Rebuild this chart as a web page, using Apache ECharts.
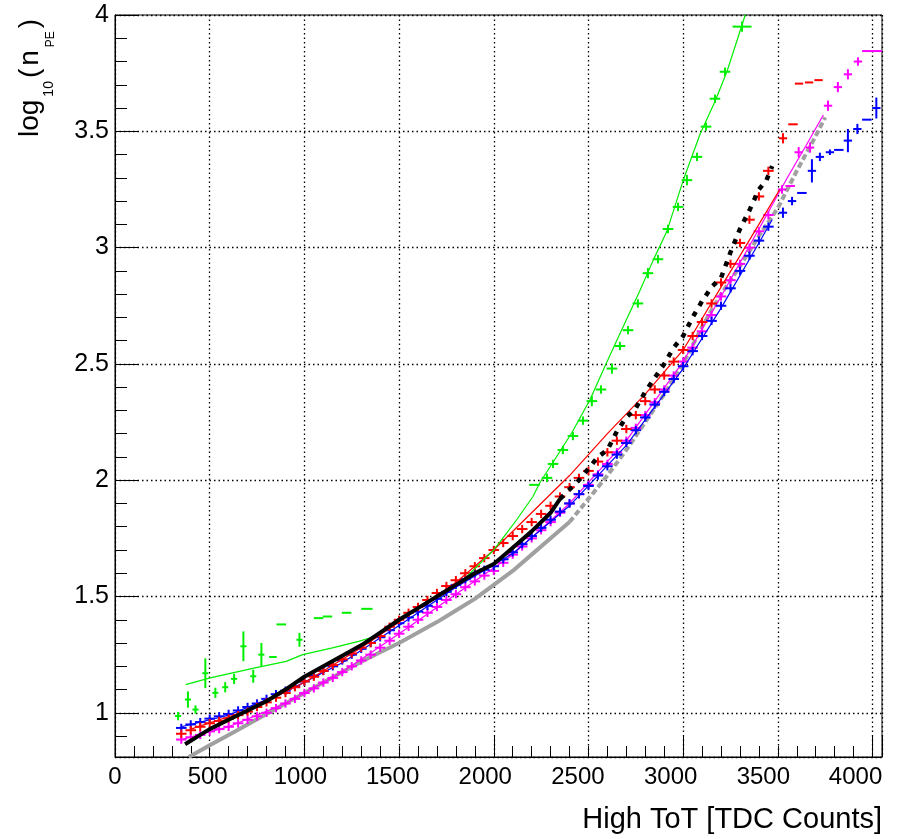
<!DOCTYPE html>
<html>
<head>
<meta charset="utf-8">
<script src="https://cdn.jsdelivr.net/npm/echarts@6/dist/echarts.min.js"></script>
<style>
  html, body { margin: 0; padding: 0; background: #fff; }
  #chart { width: 920px; height: 839px; }
</style>
</head>
<body>
<div id="chart"></div>
<script>
// ToT bins shared by the red / blue / magenta points
var tot = [350, 400, 450, 500, 550, 600, 650, 700, 750, 800, 850, 900, 950, 1000,
  1050, 1100, 1150, 1200, 1250, 1300, 1350, 1400, 1450, 1500,
  1550, 1600, 1650, 1700, 1750, 1800, 1850, 1900, 1950, 2000,
  2050, 2100, 2150, 2200, 2250, 2300, 2350, 2400, 2450, 2500,
  2550, 2600, 2650, 2700, 2750, 2800, 2850, 2900, 2950, 3000,
  3050, 3100, 3150, 3200, 3250, 3300, 3350, 3400, 3450];

var redPts = [0.91, 0.925, 0.94, 0.955, 0.965, 0.975, 0.99, 1.005, 1.025, 1.045, 1.065, 1.085, 1.11, 1.135,
  1.155, 1.18, 1.205, 1.23, 1.255, 1.28, 1.30, 1.33, 1.37, 1.40,
  1.43, 1.455, 1.485, 1.515, 1.545, 1.57, 1.60, 1.63, 1.665, 1.70,
  1.73, 1.76, 1.79, 1.82, 1.855, 1.89, 1.93, 1.97, 2.01, 2.04,
  2.08, 2.12, 2.17, 2.22, 2.28, 2.34, 2.39, 2.45, 2.51, 2.56,
  2.62, 2.68, 2.76, 2.85, 2.93, 3.02, 3.12, 3.22, 3.33];

var bluePts = [0.935, 0.95, 0.96, 0.975, 0.985, 0.995, 1.01, 1.025, 1.04, 1.06, 1.08, 1.095, 1.115, 1.135,
  1.16, 1.18, 1.20, 1.225, 1.25, 1.275, 1.30, 1.325, 1.355, 1.385,
  1.41, 1.435, 1.46, 1.49, 1.52, 1.55, 1.575, 1.60, 1.615, 1.63,
  1.66, 1.69, 1.725, 1.76, 1.795, 1.83, 1.865, 1.90, 1.94, 1.975,
  2.02, 2.06, 2.11, 2.16, 2.215, 2.27, 2.325, 2.38, 2.435, 2.49,
  2.555, 2.62, 2.685, 2.75, 2.825, 2.90, 2.965, 3.03, 3.09];

var magentaPts = [0.885, 0.895, 0.905, 0.92, 0.93, 0.94, 0.955, 0.97, 0.985, 1.00, 1.02, 1.04, 1.06, 1.085,
  1.105, 1.13, 1.15, 1.175, 1.20, 1.225, 1.25, 1.28, 1.31, 1.34,
  1.37, 1.40, 1.43, 1.455, 1.485, 1.51, 1.54, 1.565, 1.59, 1.61,
  1.645, 1.68, 1.715, 1.75, 1.785, 1.82, 1.86, 1.90, 1.94, 1.98,
  2.025, 2.07, 2.12, 2.17, 2.225, 2.28, 2.335, 2.39, 2.45, 2.51,
  2.57, 2.64, 2.71, 2.79, 2.86, 2.93, 3.00, 3.07, 3.14];

// default errors of the binned points: [x error, y error]
var binErr = [28, 0.018];

// extra points at high ToT: [x, y, x error, y error]
var redExtra = [[3527, 3.47, 22, 0.022], [3580, 3.53, 25, 0], [3612, 3.705, 22, 0], [3665, 3.71, 22, 0], [3715, 3.72, 22, 0]];
var blueExtra = [[3527, 3.15, 22, 0.022], [3575, 3.20, 22, 0.018], [3627, 3.235, 25, 0], [3680, 3.33, 22, 0.05],
  [3722, 3.39, 22, 0.018], [3775, 3.41, 22, 0.012], [3822, 3.42, 25, 0], [3870, 3.46, 22, 0.05],
  [3920, 3.51, 22, 0.022], [3970, 3.55, 25, 0], [4020, 3.60, 22, 0.045]];
var magentaExtra = [[3522, 3.25, 22, 0.018], [3565, 3.265, 25, 0], [3610, 3.41, 22, 0.022], [3670, 3.43, 22, 0.022],
  [3765, 3.61, 22, 0.022], [3817, 3.69, 22, 0.022], [3870, 3.745, 22, 0.022], [3923, 3.80, 22, 0.018], [4000, 3.845, 55, 0]];

var greenPts = [[333, 0.986, 16, 0.018], [385, 1.057, 16, 0.035], [425, 1.014, 16, 0.018], [477, 1.17, 16, 0.064],
  [530, 1.086, 16, 0.022], [582, 1.11, 16, 0.022], [629, 1.146, 16, 0.022], [678, 1.286, 16, 0.064],
  [730, 1.157, 16, 0.028], [773, 1.25, 16, 0.05], [834, 1.24, 20, 0], [878, 1.38, 25, 0],
  [974, 1.314, 16, 0.03], [1075, 1.407, 25, 0], [1122, 1.414, 25, 0], [1223, 1.43, 25, 0], [1330, 1.447, 30, 0],
  [2215, 1.98, 28, 0], [2281, 2.01, 28, 0.018], [2313, 2.07, 28, 0.018], [2365, 2.13, 28, 0.018],
  [2418, 2.19, 28, 0.018], [2471, 2.256, 28, 0.018], [2518, 2.34, 28, 0.022], [2566, 2.39, 28, 0.018],
  [2624, 2.48, 28, 0.022], [2666, 2.577, 28, 0.018], [2709, 2.645, 28, 0.018], [2761, 2.76, 28, 0.018],
  [2814, 2.89, 28, 0.022], [2867, 2.95, 28, 0.018], [2920, 3.08, 28, 0.018], [2973, 3.175, 28, 0.018],
  [3020, 3.29, 28, 0.022], [3073, 3.39, 28, 0.018], [3121, 3.52, 28, 0.018], [3168, 3.64, 28, 0.018],
  [3221, 3.756, 28, 0.018], [3311, 3.95, 50, 0.022]];

// fitted curves
var greenFit = [[373, 1.121], [503, 1.15], [739, 1.193], [904, 1.221], [991, 1.25], [1148, 1.279], [1287, 1.307],
  [1374, 1.329], [1450, 1.37], [1550, 1.42], [1700, 1.50], [1850, 1.58], [2000, 1.70], [2033, 1.735],
  [2121, 1.83], [2207, 1.93], [2244, 1.99], [2323, 2.09], [2413, 2.205], [2508, 2.346], [2587, 2.49],
  [2666, 2.63], [2772, 2.816], [2841, 2.944], [2914, 3.07], [2999, 3.286], [3089, 3.487], [3168, 3.628],
  [3231, 3.756], [3311, 3.957], [3335, 4.02]];
var redFit = [[400, 0.93], [700, 1.01], [1000, 1.13], [1300, 1.28], [1500, 1.39], [1800, 1.56], [2000, 1.70],
  [2200, 1.86], [2400, 2.02], [2600, 2.20], [2800, 2.37], [3000, 2.56], [3200, 2.83], [3400, 3.10], [3510, 3.25]];
var blueFit = [[350, 0.94], [600, 0.99], [900, 1.09], [1200, 1.215], [1500, 1.375], [1800, 1.54], [2100, 1.685],
  [2400, 1.89], [2700, 2.15], [3000, 2.48], [3200, 2.74], [3400, 3.02], [3470, 3.12]];
var magentaFit = [[350, 0.885], [600, 0.94], [900, 1.04], [1200, 1.175], [1500, 1.34], [1800, 1.51], [2100, 1.68],
  [2400, 1.90], [2700, 2.17], [3000, 2.51], [3200, 2.79], [3400, 3.08], [3550, 3.30], [3650, 3.44], [3740, 3.57]];

// dense reference curves
var blackLow = [[370, 0.865], [400, 0.88], [450, 0.905], [500, 0.93], [600, 0.97], [700, 1.01], [800, 1.05],
  [900, 1.10], [1000, 1.155], [1100, 1.20], [1200, 1.245], [1300, 1.29], [1400, 1.345], [1500, 1.40],
  [1600, 1.45], [1700, 1.50], [1800, 1.55], [1900, 1.60], [2000, 1.64], [2100, 1.71], [2200, 1.78],
  [2300, 1.86], [2350, 1.92]];
var blackHigh = [[2350, 1.92], [2400, 1.96], [2450, 2.00], [2500, 2.05], [2550, 2.10], [2600, 2.13], [2650, 2.21],
  [2700, 2.27], [2750, 2.31], [2800, 2.38], [2850, 2.44], [2900, 2.50], [2950, 2.57], [3000, 2.62],
  [3050, 2.70], [3100, 2.77], [3150, 2.83], [3200, 2.87], [3250, 2.98], [3300, 3.08], [3350, 3.16],
  [3400, 3.25], [3440, 3.29], [3470, 3.35]];
var grayLow = [[390, 0.81], [500, 0.86], [600, 0.905], [700, 0.95], [800, 0.995], [900, 1.04], [1000, 1.085],
  [1100, 1.13], [1200, 1.175], [1300, 1.22], [1400, 1.26], [1500, 1.30], [1600, 1.345], [1700, 1.39],
  [1800, 1.44], [1900, 1.49], [2000, 1.55], [2100, 1.61], [2200, 1.68], [2300, 1.75], [2400, 1.82]];
var grayHigh = [[2400, 1.82], [2500, 1.92], [2600, 2.02], [2700, 2.13], [2800, 2.25], [2900, 2.37], [3000, 2.50],
  [3100, 2.66], [3200, 2.80], [3300, 2.92], [3400, 3.05], [3500, 3.17], [3600, 3.33], [3700, 3.48], [3750, 3.56]];

var FONT = '"Liberation Sans", Arial, Helvetica, sans-serif';

function binned(ys) {
  return tot.map(function (x, i) { return [x, ys[i], binErr[0], binErr[1]]; });
}

function crossRenderer(color) {
  return function (params, api) {
    var x = api.value(0), y = api.value(1), ex = api.value(2), ey = api.value(3);
    var c = api.coord([x, y]);
    var l = api.coord([x - ex, y]);
    var r = api.coord([x + ex, y]);
    var kids = [{
      type: 'line',
      shape: { x1: l[0], y1: c[1], x2: r[0], y2: c[1] },
      style: { stroke: color, lineWidth: 2 }
    }];
    if (ey > 0) {
      var t = api.coord([x, y + ey]);
      var b = api.coord([x, y - ey]);
      kids.push({
        type: 'line',
        shape: { x1: c[0], y1: t[1], x2: c[0], y2: b[1] },
        style: { stroke: color, lineWidth: 2 }
      });
    }
    return { type: 'group', children: kids };
  };
}

function crosses(name, color, data, z) {
  return {
    name: name, type: 'custom', renderItem: crossRenderer(color),
    encode: { x: 0, y: 1 }, data: data, clip: true, z: z
  };
}

function curve(name, data, color, width, dash, z) {
  return {
    name: name, type: 'line', data: data, showSymbol: false, symbol: 'none',
    lineStyle: { color: color, width: width, type: dash || 'solid', cap: 'butt' },
    z: z, silent: true
  };
}

// the x labels drift a little to the left of their ticks, as in the original
var labelRich = {};
for (var k = 0; k <= 8; k++) {
  labelRich['s' + k] = { fontFamily: FONT, fontSize: 24, color: '#000', padding: [0, Math.round(k * 4.2), 0, 0] };
}

// y title pieces: text, font size, shift below the baseline
var yTitleParts = [['log', 28, 0], ['10', 14, 19], ['(', 28, 0], ['n', 28, 0], ['PE', 12, 21], [')', 28, 0]];
var measure = document.createElement('canvas').getContext('2d');
var cursor = 0;
var yTitleKids = yTitleParts.map(function (p) {
  measure.font = p[1] + 'px ' + FONT;
  var el = {
    type: 'text', x: cursor, y: p[2],
    style: { text: p[0], fontSize: p[1], fontFamily: FONT, fill: '#000',
      align: 'left', verticalAlign: 'middle', textAlign: 'left', textVerticalAlign: 'middle' }
  };
  cursor += measure.measureText(p[0]).width + 3;
  return el;
});

var chart = echarts.init(document.getElementById('chart'), null, { renderer: 'canvas' });

var xBase = { type: 'value', min: 0, max: 4050, position: 'bottom', gridIndex: 0 };
var yBase = { type: 'value', min: 0.81, max: 4, position: 'left', gridIndex: 0 };
var gridDots = { color: '#000', width: 1.3, type: [1.5, 3] };

chart.setOption({
  animation: false,
  backgroundColor: '#fff',
  grid: { left: 115, right: 38, top: 15, bottom: 82, show: true, borderColor: '#000', borderWidth: 1, backgroundColor: 'transparent' },
  xAxis: [
    Object.assign({}, xBase, {
      interval: 500,
      axisLine: { show: true, lineStyle: { color: '#000', width: 1 } },
      axisTick: { show: false },
      axisLabel: {
        color: '#000', fontFamily: FONT, fontSize: 24, margin: 8, rich: labelRich,
        formatter: function (v) {
          if (v % 500 !== 0 || v > 4000) return '';
          return '{s' + (v / 500) + '|' + v + '}';
        }
      },
      splitLine: { show: true, lineStyle: gridDots }
    }),
    Object.assign({}, xBase, {
      interval: 100,
      axisLine: { show: false }, axisLabel: { show: false }, splitLine: { show: false },
      axisTick: { show: true, inside: true, length: 11, lineStyle: { color: '#000', width: 1 } }
    }),
    Object.assign({}, xBase, {
      interval: 1000,
      axisLine: { show: false }, axisLabel: { show: false }, splitLine: { show: false },
      axisTick: { show: true, inside: true, length: 22, lineStyle: { color: '#000', width: 1 } }
    })
  ],
  yAxis: [
    Object.assign({}, yBase, {
      splitNumber: 5,
      axisLine: { show: true, lineStyle: { color: '#000', width: 1 } },
      axisTick: { show: true, inside: true, length: 23, lineStyle: { color: '#000', width: 1 } },
      axisLabel: {
        color: '#000', fontFamily: FONT, fontSize: 25, margin: 6,
        formatter: function (v) { return v >= 1 ? String(v) : ''; }
      },
      splitLine: { show: true, lineStyle: gridDots }
    }),
    Object.assign({}, yBase, {
      splitNumber: 32,
      axisLine: { show: false }, axisLabel: { show: false }, splitLine: { show: false },
      axisTick: { show: true, inside: true, length: 12, lineStyle: { color: '#000', width: 1 } }
    })
  ],
  graphic: [
    {
      type: 'text', right: 38, top: 805,
      style: { text: 'High ToT [TDC Counts]', fontSize: 29, fontFamily: FONT, fill: '#000' }
    },
    { type: 'group', x: 30, y: 137, rotation: Math.PI / 2, children: yTitleKids }
  ],
  series: [
    curve('gray', grayLow, '#a0a0a0', 4, 'solid', 2),
    curve('gray high', grayHigh, '#a0a0a0', 4, [6, 3], 2),
    crosses('magenta', '#ff00ff', binned(magentaPts).concat(magentaExtra), 3),
    curve('magenta fit', magentaFit, '#ff00ff', 1.2, 'solid', 3),
    crosses('blue', '#0000ff', binned(bluePts).concat(blueExtra), 4),
    curve('blue fit', blueFit, '#0000ff', 1.2, 'solid', 4),
    crosses('red', '#ff0000', binned(redPts).concat(redExtra), 5),
    curve('red fit', redFit, '#ff0000', 1.2, 'solid', 5),
    crosses('green', '#00ee00', greenPts, 6),
    curve('green fit', greenFit, '#00ee00', 1.2, 'solid', 6),
    curve('black', blackLow, '#000', 4, 'solid', 7),
    curve('black high', blackHigh, '#000', 4.5, [5, 7], 7)
  ]
});
</script>
</body>
</html>
